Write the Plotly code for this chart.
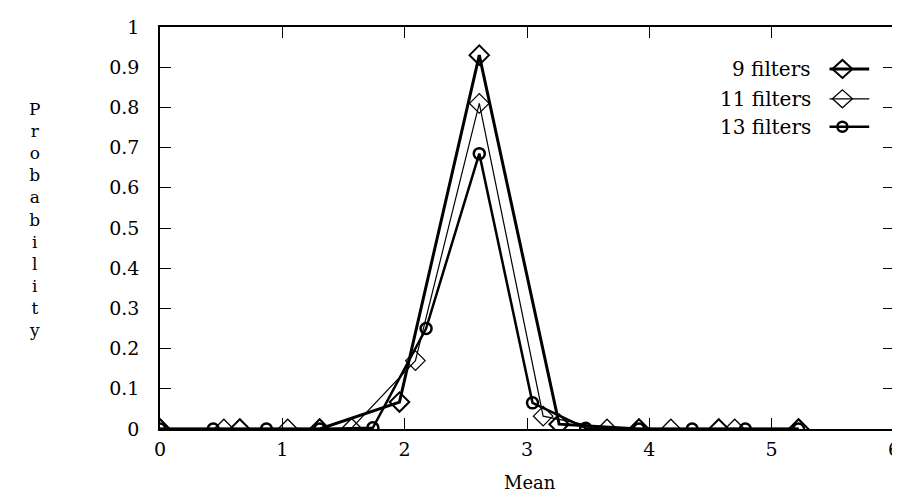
import plotly.graph_objects as go

# Data
x9 = [0.0, 0.6525, 1.305, 1.9575, 2.61, 3.2625, 3.915, 4.5675, 5.22]
y9 = [0.0, 0.0, 0.0, 0.067, 0.93, 0.012, 0.0, 0.0, 0.0]

x11 = [0.0, 0.522, 1.044, 1.566, 2.088, 2.61, 3.132, 3.654, 4.176, 4.698, 5.22]
y11 = [0.0, 0.0, 0.0, 0.002, 0.17, 0.81, 0.032, 0.0, 0.0, 0.0, 0.0]

x13 = [0.0, 0.435, 0.87, 1.305, 1.74, 2.175, 2.61, 3.045, 3.48, 3.915, 4.35, 4.785, 5.22]
y13 = [0.0, 0.0, 0.0, 0.0, 0.003, 0.25, 0.685, 0.065, 0.002, 0.0, 0.0, 0.0, 0.0]

series_names = ["9 filters", "11 filters", "13 filters"]
x_ticks = [0, 1, 2, 3, 4, 5, 6]
y_ticks = [0, 0.1, 0.2, 0.3, 0.4, 0.5, 0.6, 0.7, 0.8, 0.9, 1]

FONT = "DejaVu Serif"

fig = go.Figure()
fig.add_trace(go.Scatter(x=x11, y=y11, mode="lines+markers", name=series_names[1],
                         line=dict(color="black", width=1.2),
                         marker=dict(symbol="diamond-open", size=15, color="black",
                                     line=dict(width=1.3, color="black"))))
fig.add_trace(go.Scatter(x=x13, y=y13, mode="lines+markers", name=series_names[2],
                         line=dict(color="black", width=2.5),
                         marker=dict(symbol="circle-open", size=11, color="black",
                                     line=dict(width=2.5, color="black"))))
fig.add_trace(go.Scatter(x=x9, y=y9, mode="lines+markers", name=series_names[0],
                         line=dict(color="black", width=3),
                         marker=dict(symbol="diamond-open", size=15, color="black",
                                     line=dict(width=2, color="black"))))

L, R, T, B = 152, 8, 18, 71
W, H = 900, 492
pw = W - L - R
ph = H - T - B

def px2paper_x(px):
    return (px - L) / pw

def px2paper_y(py):
    return 1 - (py - T) / ph

# Manual legend (text left of sample, like the reference)
rows_y = [60, 90, 118]
widths = [3, 1.2, 2.5]
text_right = 810
line_x0, line_x1 = 827, 867
mark_x = 840
shapes = []
annotations = []
for i, name in enumerate(series_names):
    yp = px2paper_y(rows_y[i])
    annotations.append(dict(text=name, x=px2paper_x(text_right), y=yp, xref="paper", yref="paper",
                            xanchor="right", yanchor="middle", showarrow=False,
                            font=dict(family=FONT, size=20, color="black")))
    shapes.append(dict(type="line", xref="paper", yref="paper",
                       x0=px2paper_x(line_x0), x1=px2paper_x(line_x1), y0=yp, y1=yp,
                       line=dict(color="black", width=widths[i])))
    if i < 2:
        shapes.append(dict(type="path", xref="paper", yref="paper",
                           xsizemode="pixel", ysizemode="pixel",
                           xanchor=px2paper_x(mark_x), yanchor=yp,
                           path="M 0,-9 L 10,0 L 0,9 L -10,0 Z",
                           line=dict(color="black", width=2 if i == 0 else 1.3)))
    else:
        shapes.append(dict(type="circle", xref="paper", yref="paper",
                           xsizemode="pixel", ysizemode="pixel",
                           xanchor=px2paper_x(mark_x), yanchor=yp,
                           x0=-5, x1=5, y0=-5, y1=5,
                           line=dict(color="black", width=2.5)))

# Axis titles
annotations.append(dict(text="Mean", x=px2paper_x(525), y=px2paper_y(475), xref="paper", yref="paper",
                        xanchor="center", yanchor="middle", showarrow=False,
                        font=dict(family=FONT, size=18, color="black")))
annotations.append(dict(text="<br>".join(list("Probability")), x=px2paper_x(26), y=px2paper_y(211),
                        xref="paper", yref="paper", xanchor="center", yanchor="middle",
                        showarrow=False, font=dict(family=FONT, size=17, color="black")))

fig.update_layout(
    width=W, height=H,
    margin=dict(l=L, r=R, t=T, b=B),
    paper_bgcolor="white", plot_bgcolor="white",
    showlegend=False,
    font=dict(family=FONT, size=19, color="black"),
    shapes=shapes, annotations=annotations,
)
fig.update_xaxes(range=[0, 6], tickvals=x_ticks, ticktext=[str(v) for v in x_ticks],
                 showgrid=False, zeroline=False, showline=True, linecolor="black", linewidth=1.5,
                 mirror="ticks", ticks="inside", ticklen=11, tickwidth=1.3, tickcolor="black",
                 ticklabelstandoff=2, tickfont=dict(family=FONT, size=19))
fig.update_yaxes(range=[0, 1], tickvals=y_ticks, ticktext=[("%g" % v) for v in y_ticks],
                 showgrid=False, zeroline=False, showline=True, linecolor="black", linewidth=1.5,
                 mirror="ticks", ticks="inside", ticklen=11, tickwidth=1.3, tickcolor="black",
                 ticklabelstandoff=15, tickfont=dict(family=FONT, size=19))

fig.write_html("out.html")
